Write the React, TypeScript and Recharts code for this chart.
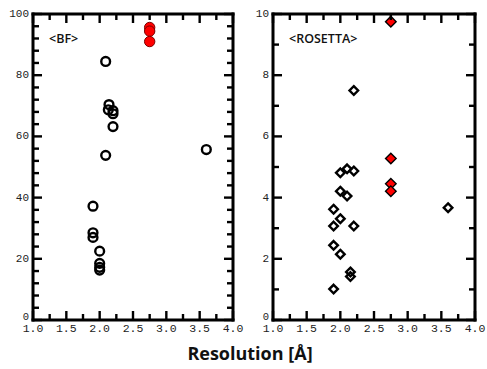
import React from "react";
import { ScatterChart, Scatter, XAxis, YAxis } from "recharts";

// Resolution axis ticks (major every 0.5 Å, minor every 0.25 Å)
const resolutionTicks = [1, 1.25, 1.5, 1.75, 2, 2.25, 2.5, 2.75, 3, 3.25, 3.5, 3.75, 4];
// BF axis ticks (labels every 20)
const bfTicks = [0, 4, 8, 12, 16, 20, 24, 28, 32, 36, 40, 44, 48, 52, 56, 60, 64, 68, 72, 76, 80, 84, 88, 92, 96, 100];
// ROSETTA axis ticks (labels every 2)
const rosettaTicks = [0, 1, 2, 3, 4, 5, 6, 7, 8, 9, 10];

// <BF> panel
const bfResolution = [2.09, 2.14, 2.13, 2.2, 2.2, 2.2, 2.09, 3.6, 1.9, 1.9, 1.9, 2.0, 2.0, 2.0, 2.0];
const bfScore = [84.5, 70.4, 68.7, 68.4, 67.4, 63.2, 53.8, 55.7, 37.2, 28.5, 27.0, 22.5, 18.5, 17.2, 16.3];
const bfHighlightResolution = [2.75, 2.75, 2.75];
const bfHighlightScore = [95.6, 94.4, 91.0];

// <ROSETTA> panel
const rosettaResolution = [2.2, 2.0, 2.1, 2.2, 2.0, 2.1, 1.9, 2.0, 1.9, 2.2, 3.6, 1.9, 2.0, 2.15, 2.15, 1.9];
const rosettaScore = [7.5, 4.81, 4.94, 4.87, 4.21, 4.05, 3.62, 3.31, 3.07, 3.07, 3.67, 2.44, 2.15, 1.57, 1.42, 1.01];
const rosettaHighlightResolution = [2.75, 2.75, 2.75, 2.75];
const rosettaHighlightScore = [9.75, 5.28, 4.45, 4.21];

const toPoints = (xs: number[], ys: number[]) => xs.map((x, i) => ({ x, y: ys[i] }));

const MAJOR = 9;
const MINOR = 6;
const TICK_W = 2.4;
const AXIS = { stroke: "#000", strokeWidth: 3, strokeLinecap: "square" as const };
const TICK_FONT = "'Liberation Mono', 'DejaVu Sans Mono', monospace";

const isMultiple = (v: number, step: number) => Math.abs(v / step - Math.round(v / step)) < 1e-6;

const BottomTick = (props: any) => {
  const { x, y, payload } = props;
  const v = payload.value as number;
  const major = isMultiple(v, 0.5);
  return (
    <g>
      <line x1={x} x2={x} y1={y} y2={y - (major ? MAJOR : MINOR)} stroke="#000" strokeWidth={TICK_W} />
      {major && (
        <text x={x} y={y + 12} textAnchor="middle" fontFamily={TICK_FONT} fontSize={11.5} fill="#222">
          {v.toFixed(1)}
        </text>
      )}
    </g>
  );
};

const TopTick = (props: any) => {
  const { x, y, payload } = props;
  const major = isMultiple(payload.value, 0.5);
  return <line x1={x} x2={x} y1={y} y2={y + (major ? MAJOR : MINOR)} stroke="#000" strokeWidth={TICK_W} />;
};

const makeLeftTick = (labelStep: number) => (props: any) => {
  const { x, y, payload } = props;
  const v = payload.value as number;
  const major = isMultiple(v, labelStep);
  return (
    <g>
      <line x1={x} x2={x + (major ? MAJOR : MINOR)} y1={y} y2={y} stroke="#000" strokeWidth={TICK_W} />
      {major && (
        <text
          x={x - 4}
          y={v === 0 ? y - 3 : y}
          textAnchor="end"
          dominantBaseline="central"
          fontFamily={TICK_FONT}
          fontSize={v === 0 ? 10.5 : 11}
          fill="#222"
        >
          {v}
        </text>
      )}
    </g>
  );
};

const makeRightTick = (labelStep: number) => (props: any) => {
  const { x, y, payload } = props;
  const major = isMultiple(payload.value, labelStep);
  return <line x1={x} x2={x - (major ? MAJOR : MINOR)} y1={y} y2={y} stroke="#000" strokeWidth={TICK_W} />;
};

const OpenCircle = (props: any) => (
  <circle cx={props.cx} cy={props.cy} r={4.4} fill="none" stroke="#000" strokeWidth={2.4} />
);
const RedCircle = (props: any) => (
  <circle cx={props.cx} cy={props.cy} r={5.2} fill="#ff0000" stroke="#7a0000" strokeWidth={1} />
);
const diamondPath = (cx: number, cy: number, h: number) =>
  `M${cx},${cy - h} L${cx + h},${cy} L${cx},${cy + h} L${cx - h},${cy} Z`;
const OpenDiamond = (props: any) => (
  <path d={diamondPath(props.cx, props.cy, 4.3)} fill="none" stroke="#000" strokeWidth={2.4} />
);
const RedDiamond = (props: any) => (
  <path d={diamondPath(props.cx, props.cy, 5.3)} fill="#ff0000" stroke="#000" strokeWidth={1.4} />
);

type PanelProps = {
  width: number;
  height: number;
  margin: { top: number; right: number; bottom: number; left: number };
  yMax: number;
  yTicks: number[];
  labelStep: number;
  open: { x: number; y: number }[];
  highlight: { x: number; y: number }[];
  openShape: any;
  highlightShape: any;
};

// Axes are 1px thick bands so that they render; the frame sits on the plot edges.
const Panel = (p: PanelProps) => (
  <ScatterChart width={p.width} height={p.height} margin={p.margin}>
    <XAxis
      xAxisId="bottom"
      dataKey="x"
      type="number"
      orientation="bottom"
      domain={[1, 4]}
      ticks={resolutionTicks}
      interval={0}
      height={1}
      tickSize={0}
      tickMargin={0}
      tickLine={false}
      axisLine={AXIS}
      tick={BottomTick}
      allowDataOverflow
    />
    <XAxis
      xAxisId="top"
      dataKey="x"
      type="number"
      orientation="top"
      domain={[1, 4]}
      ticks={resolutionTicks}
      interval={0}
      height={1}
      tickSize={0}
      tickMargin={0}
      tickLine={false}
      axisLine={AXIS}
      tick={TopTick}
      allowDataOverflow
    />
    <YAxis
      yAxisId="left"
      dataKey="y"
      type="number"
      orientation="left"
      domain={[0, p.yMax]}
      ticks={p.yTicks}
      interval={0}
      width={1}
      tickSize={0}
      tickMargin={0}
      tickLine={false}
      axisLine={AXIS}
      tick={makeLeftTick(p.labelStep)}
      allowDataOverflow
    />
    <YAxis
      yAxisId="right"
      dataKey="y"
      type="number"
      orientation="right"
      domain={[0, p.yMax]}
      ticks={p.yTicks}
      interval={0}
      width={1}
      tickSize={0}
      tickMargin={0}
      tickLine={false}
      axisLine={AXIS}
      tick={makeRightTick(p.labelStep)}
      allowDataOverflow
    />
    <Scatter xAxisId="bottom" yAxisId="left" data={p.open} shape={p.openShape} isAnimationActive={false} />
    <Scatter xAxisId="top" yAxisId="right" data={p.highlight} shape={p.highlightShape} isAnimationActive={false} />
  </ScatterChart>
);

const panelLabel: React.CSSProperties = {
  position: "absolute",
  fontFamily: "'Open Sans', sans-serif",
  fontSize: 12.5,
  fontWeight: 600,
  color: "#111",
  lineHeight: "14px",
};

export default function App() {
  return (
    <div style={{ position: "absolute", left: 0, top: 0, width: 487, height: 369, background: "#fff" }}>
      <div style={{ position: "absolute", left: 0, top: 0 }}>
        <Panel
          width={245}
          height={345}
          margin={{ top: 13, right: 11, bottom: 24, left: 32 }}
          yMax={100}
          yTicks={bfTicks}
          labelStep={20}
          open={toPoints(bfResolution, bfScore)}
          highlight={toPoints(bfHighlightResolution, bfHighlightScore)}
          openShape={OpenCircle}
          highlightShape={RedCircle}
        />
      </div>
      <div style={{ position: "absolute", left: 245, top: 0 }}>
        <Panel
          width={242}
          height={345}
          margin={{ top: 13, right: 11, bottom: 24, left: 27 }}
          yMax={10}
          yTicks={rosettaTicks}
          labelStep={2}
          open={toPoints(rosettaResolution, rosettaScore)}
          highlight={toPoints(rosettaHighlightResolution, rosettaHighlightScore)}
          openShape={OpenDiamond}
          highlightShape={RedDiamond}
        />
      </div>
      <div style={{ ...panelLabel, left: 49, top: 32 }}>&lt;BF&gt;</div>
      <div style={{ ...panelLabel, left: 289, top: 32 }}>&lt;ROSETTA&gt;</div>
      <div
        style={{
          position: "absolute",
          left: 150,
          top: 342,
          width: 200,
          textAlign: "center",
          fontFamily: "'Open Sans', sans-serif",
          fontWeight: 700,
          fontSize: 18,
          lineHeight: "22px",
          color: "#111",
        }}
      >
        Resolution [Å]
      </div>
    </div>
  );
}
